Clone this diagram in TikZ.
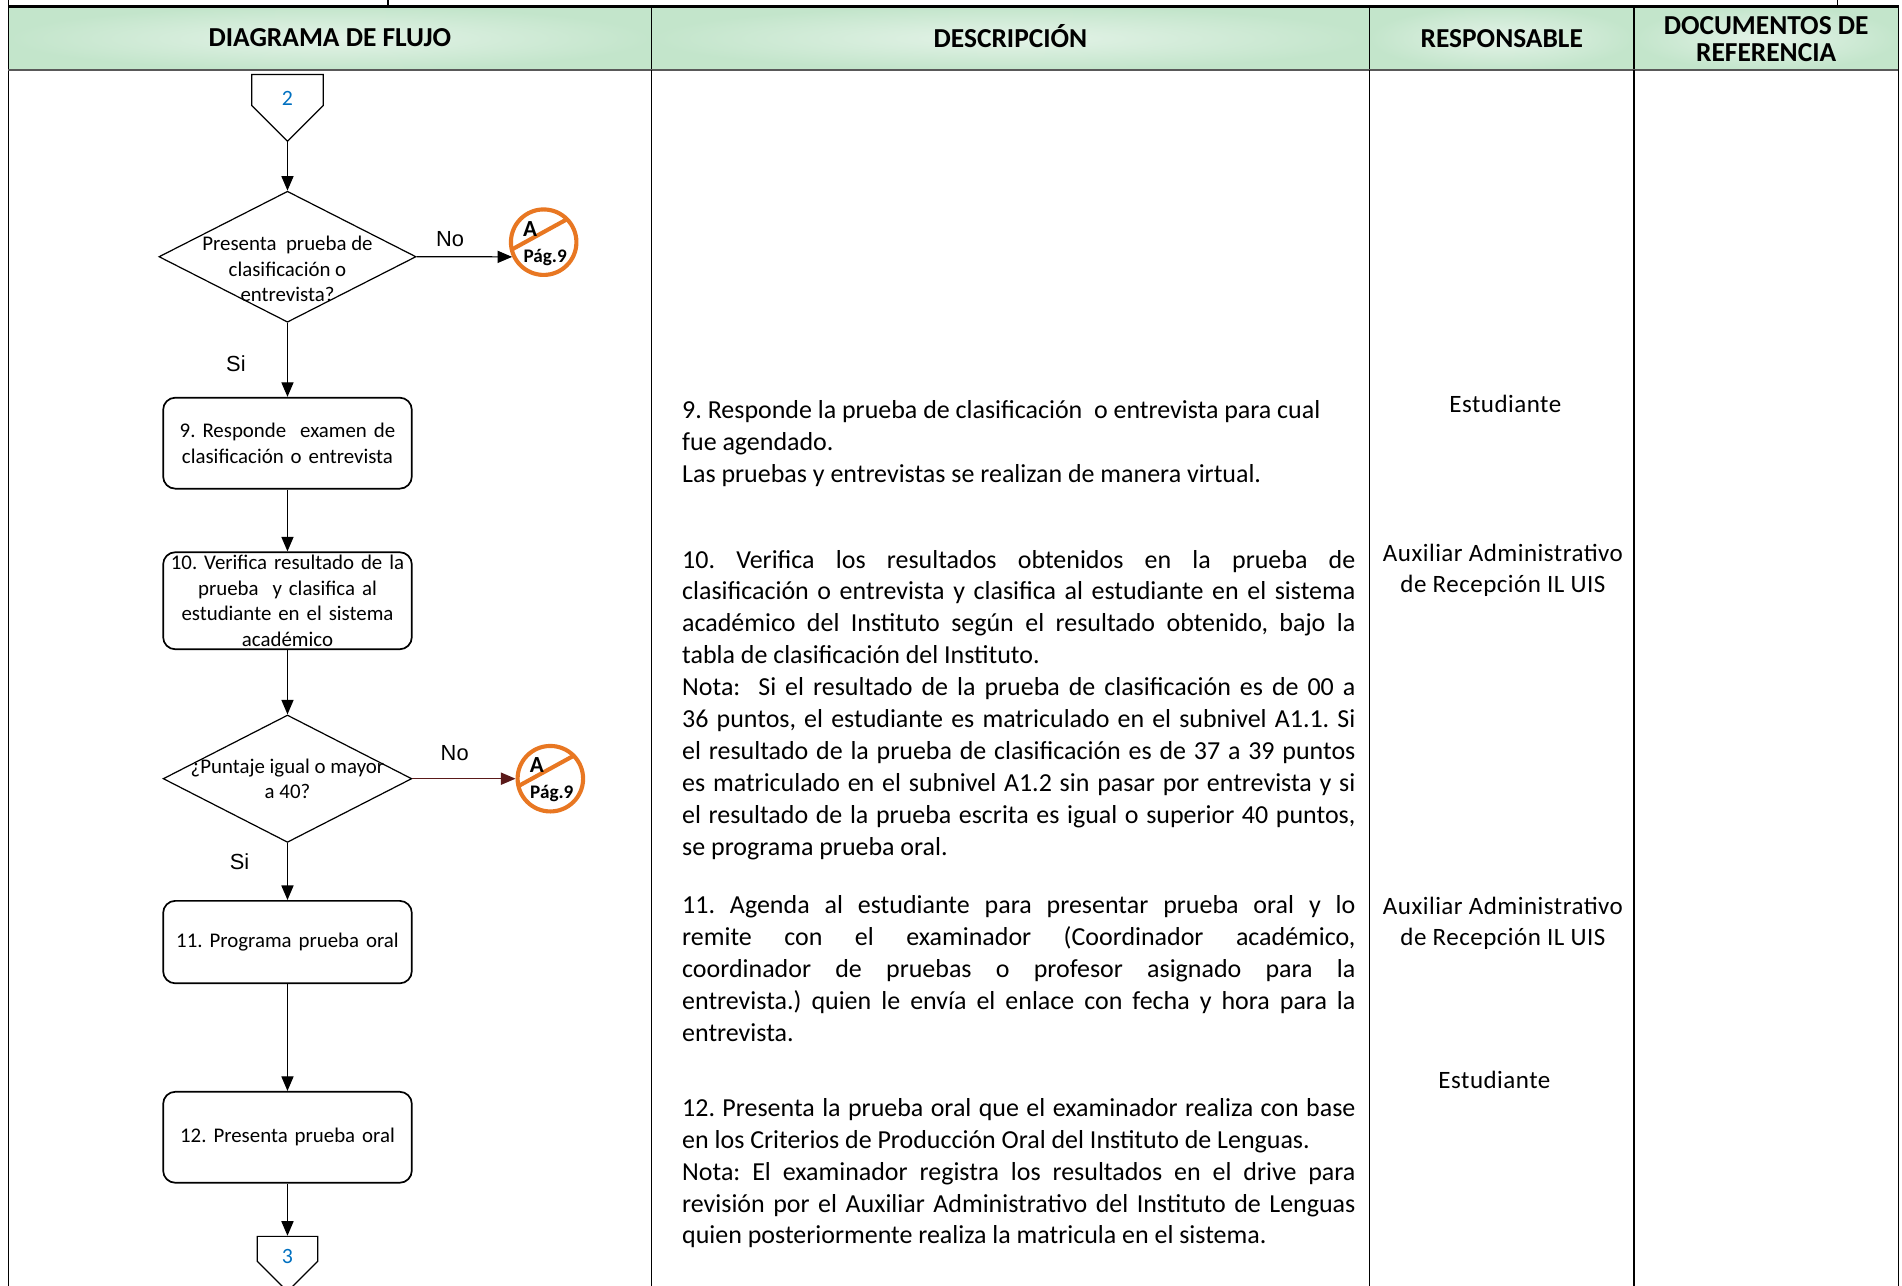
\documentclass[tikz,border=0pt]{standalone}
\usepackage{fontspec}
\setmainfont{Carlito}
\newfontfamily\arialfont{Liberation Sans}
\newfontfamily\respfont[LetterSpace=2]{Carlito}
\usetikzlibrary{shapes.geometric, shapes.symbols, arrows.meta, positioning}
\setlength{\parindent}{0pt}
\hyphenpenalty=10000
\frenchspacing

\definecolor{headgreen}{RGB}{195,229,203}
\definecolor{headlight}{RGB}{228,243,232}
\definecolor{linkblue}{RGB}{0,112,192}
\definecolor{linkorange}{RGB}{232,119,34}
\definecolor{nored}{RGB}{90,25,25}

% connector number, set a little below the middle of its box
\newcommand{\offnum}[1]{\raisebox{-3pt}[6.5pt][0pt]{#1}}

\tikzstyle{headcell} = [draw, line width=0.6pt, inner color=headlight, outer color=headgreen]
\tikzstyle{headtext} = [align=center, font=\bfseries\fontsize{11.3}{11}\selectfont]
\tikzstyle{process} = [rectangle, draw, line width=0.7pt, rounded corners=5pt, minimum width=102.5pt, text width=100pt, align=center, inner sep=1pt, font=\fontsize{8.6}{10.5}\selectfont]
\tikzstyle{decision} = [diamond, draw, line width=0.5pt, inner sep=0pt]
\tikzstyle{qtext} = [align=center, inner sep=0pt, font=\fontsize{8.6}{10.5}\selectfont]
\tikzstyle{offpage} = [signal, signal to=south, signal pointer angle=90, draw, line width=0.5pt, inner sep=0pt, text=linkblue, font=\fontsize{9}{9}\selectfont]
\tikzstyle{pageref} = [circle, draw=linkorange, line width=1.7pt, minimum size=27pt, inner sep=0pt,
    path picture={\draw[linkorange, line width=1.7pt] ([shift={(-21pt,-7.35pt)}]path picture bounding box.center) -- ++(40pt,21.96pt);},
    label={[inner sep=0pt, font=\bfseries\fontsize{9.5}{9}\selectfont, xshift=-5.6pt, yshift=5.6pt]center:A},
    label={[inner sep=0pt, font=\bfseries\fontsize{7.9}{8}\selectfont, xshift=0.6pt, yshift=-6.3pt]center:Pág.9}]
\tikzstyle{arrow} = [line width=0.5pt, -{Triangle[length=6pt, width=5pt]}]
\tikzstyle{answer} = [inner sep=0pt, font=\arialfont\fontsize{9}{9}\selectfont]
\tikzstyle{desc} = [anchor=north west, text width=277.5pt, align=justify, inner sep=0pt, font=\fontsize{10.7}{13.15}\selectfont]
\tikzstyle{resp} = [align=center, inner sep=0pt, font=\respfont\fontsize{10.3}{13}\selectfont]

\begin{document}
\begin{tikzpicture}[x=0.5pt, y=0.5pt]

    \useasboundingbox (0,0) rectangle (1568,-1060);

    % Header
    \draw [headcell] (7,-5) rectangle (537,-58);
    \draw [headcell] (537,-5) rectangle (1129,-58);
    \draw [headcell] (1129,-5) rectangle (1347,-58);
    \draw [headcell] (1347,-5) rectangle (1565,-58);

    \node (h_flujo) [headtext] at (272,-31) {DIAGRAMA DE FLUJO};
    \node (h_desc) [headtext] at (833,-30) {DESCRIPCIÓN};
    \node (h_resp) [headtext] at (1238,-32) {RESPONSABLE};
    \node (h_docs) [headtext] at (1456,-32) {DOCUMENTOS DE\\REFERENCIA};

    % Table lines
    \draw [line width=0.8pt] (7,0) -- (7,-1060);
    \draw [line width=0.6pt] (320,0) -- (320,-5);
    \draw [line width=0.6pt] (1515,0) -- (1515,-5);
    \draw [line width=1.2pt] (7,-5) -- (1565,-5);
    \draw [line width=0.9pt, black!65] (7,-58) -- (1565,-58);
    \foreach \x in {537,1129,1347,1565}
        \draw [line width=0.6pt] (\x,-58) -- (\x,-1060);

    % Flow chart
    \node (conn2) [offpage, minimum width=29.5pt, minimum height=15pt, anchor=north] at (237,-61) {\offnum{2}};

    \node (dec1) [decision, minimum width=106pt, minimum height=54pt, below=20pt of conn2] {};
    \node (dec1_text) [qtext] at ([yshift=-5pt]dec1.center) {Presenta\ \ prueba de\\clasificación o\\entrevista?};
    \node (pageA1) [pageref, right=38pt of dec1, yshift=6pt] {};

    \node (box9) [process, minimum height=37.5pt, below=30.5pt of dec1] {9. Responde\ \ examen de\\clasificación o entrevista};
    \node (box10) [process, minimum height=40pt, below=25.5pt of box9] {10. Verifica resultado de la\\prueba\ \ y clasifica al\\estudiante en el sistema\\académico};

    \node (dec2) [decision, minimum width=102.5pt, minimum height=52.5pt, below=26.5pt of box10] {};
    \node (dec2_text) [qtext] at (dec2.center) {¿Puntaje igual o mayor\\a 40?};
    \node (pageA2) [pageref, right=42.5pt of dec2] {};

    \node (box11) [process, minimum height=34pt, below=23.5pt of dec2] {11. Programa prueba oral};
    \node (box12) [process, minimum height=37.5pt, below=44pt of box11] {12. Presenta prueba oral};

    \node (conn3) [offpage, minimum width=25pt, minimum height=12.5pt, below=21.5pt of box12] {\offnum{3}};

    % Arrows
    \draw [arrow] (conn2.south) -- (dec1.north);
    \draw [arrow] (dec1.east) -- node (no1) [answer, pos=0.35, above=4pt] {No} (pageA1.205);
    \draw [arrow] (dec1.south) -- node (si1) [answer, pos=0.55, left=17pt] {Si} (box9.north);
    \draw [arrow] (box9.south) -- (box10.north);
    \draw [arrow] (box10.south) -- (dec2.north);
    \draw [arrow, nored] (dec2.east) -- node (no2) [answer, black, pos=0.41, above=7pt] {No} (pageA2.west);
    \draw [arrow] (dec2.south) -- node (si2) [answer, pos=0.32, left=15.5pt] {Si} (box11.north);
    \draw [arrow] (box11.south) -- (box12.north);
    \draw [arrow] (box12.south) -- (conn3.north);

    % Descripcion
    \node (desc9) [desc] at (562,-330) {9. Responde la prueba de clasificación\ \ o entrevista para cual\newline fue agendado.\par Las pruebas y entrevistas se realizan de manera virtual.};
    \node (desc10) [desc] at (562,-453) {10. Verifica los resultados obtenidos en la prueba de\linebreak clasificación o entrevista y clasifica al estudiante en el sistema\linebreak académico del Instituto según el resultado obtenido, bajo la\linebreak tabla de clasificación del Instituto.\par Nota:\ \ Si el resultado de la prueba de clasificación es de 00 a\linebreak 36 puntos, el estudiante es matriculado en el subnivel A1.1. Si\linebreak el resultado de la prueba de clasificación es de 37 a 39 puntos\linebreak es matriculado en el subnivel A1.2 sin pasar por entrevista y si\linebreak el resultado de la prueba escrita es igual o superior 40 puntos,\linebreak se programa prueba oral.};
    \node (desc11) [desc] at (562,-738) {11. Agenda al estudiante para presentar prueba oral y lo\linebreak remite con el examinador (Coordinador académico,\linebreak coordinador de pruebas o profesor asignado para la\linebreak entrevista.) quien le envía el enlace con fecha y hora para la\linebreak entrevista.};
    \node (desc12) [desc] at (562,-905) {12. Presenta la prueba oral que el examinador realiza con base\linebreak en los Criterios de Producción Oral del Instituto de Lenguas.\par Nota: El examinador registra los resultados en el drive para\linebreak revisión por el Auxiliar Administrativo del Instituto de Lenguas\linebreak quien posteriormente realiza la matricula en el sistema.};

    % Responsable
    \node (resp9) [resp] at (1241,-333) {Estudiante};
    \node (resp10) [resp] at (1239,-470) {Auxiliar Administrativo\\de Recepción IL UIS};
    \node (resp11) [resp] at (1239,-761) {Auxiliar Administrativo\\de Recepción IL UIS};
    \node (resp12) [resp] at (1232,-890) {Estudiante};

\end{tikzpicture}
\end{document}
